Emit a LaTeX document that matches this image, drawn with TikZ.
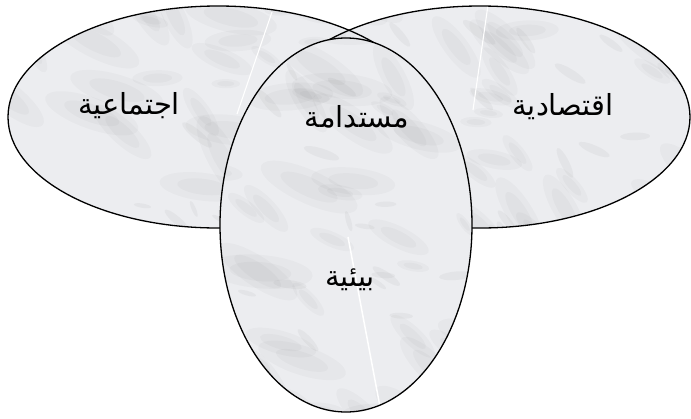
\documentclass[tikz,border=0pt]{standalone}
\usepackage{fontspec}
\newfontfamily\arabicfont[Script=Arabic]{DejaVu Sans}
\TeXXeTstate=1
\definecolor{marblebase}{RGB}{236,237,240}
\tikzset{
  ell/.style={draw=black, line width=1.3pt},
  lbl/.style={font=\arabicfont\fontsize{29}{32}\selectfont, text=black, inner sep=0pt},
  blob/.style={fill=black!60, opacity=0.045},
  dblob/.style={fill=black!70, opacity=0.05},
  seam/.style={draw=white, line width=1.1pt}
}
\newcommand\mymarble{%
  \fill[marblebase] (0,0) rectangle (691,418);
  \foreach \k in {1,...,110}{%
    \pgfmathsetmacro\px{rand*360+345}%
    \pgfmathsetmacro\py{rand*220+209}%
    \pgfmathsetmacro\ang{rand*35-30}%
    \pgfmathsetmacro\rr{rand*9+15}%
    \pgfmathsetmacro\ra{2.2*\rr}%
    \pgfmathsetmacro\rb{0.7*\rr}%
    \pgfmathsetmacro\rc{1.3*\rr}%
    \pgfmathsetmacro\rd{0.4*\rr}%
    \begin{scope}[rotate around={\ang:(\px,\py)}]
      \fill[blob] (\px,\py) ellipse[x radius=\ra pt, y radius=\rb pt];
      \fill[blob] (\px,\py) ellipse[x radius=\rc pt, y radius=\rd pt];
    \end{scope}
  }%
  \foreach \k in {1,...,60}{%
    \pgfmathsetmacro\px{rand*360+345}%
    \pgfmathsetmacro\py{rand*220+209}%
    \pgfmathsetmacro\ang{rand*40-35}%
    \pgfmathsetmacro\rr{rand*3+7}%
    \pgfmathsetmacro\ra{2*\rr}%
    \pgfmathsetmacro\rb{0.5*\rr}%
    \begin{scope}[rotate around={\ang:(\px,\py)}]
      \fill[dblob] (\px,\py) ellipse[x radius=\ra pt, y radius=\rb pt];
    \end{scope}
  }%
}
\begin{document}
\begin{tikzpicture}[x=1pt, y=-1pt]
\pgfmathsetseed{11}
\useasboundingbox (0,0) rectangle (691,418);
% left ellipse
\begin{scope}
  \clip (218,117) ellipse [x radius=210pt, y radius=111pt];
  \mymarble
  \coordinate (ls1) at (272,12); \coordinate (ls2) at (237,114);
  \draw[seam] (ls1) -- (ls2);
\end{scope}
% right ellipse
\begin{scope}
  \clip (480,117) ellipse [x radius=210pt, y radius=111pt];
  \mymarble
  \coordinate (rs1) at (488,5); \coordinate (rs2) at (473,110);
  \draw[seam] (rs1) -- (rs2);
\end{scope}
\draw[ell] (218,117) ellipse [x radius=210pt, y radius=111pt];
\draw[ell] (480,117) ellipse [x radius=210pt, y radius=111pt];
% vertical ellipse
\begin{scope}
  \clip (346,225) ellipse [x radius=126pt, y radius=187pt];
  \mymarble
  \coordinate (vs1) at (348,237); \coordinate (vs2) at (381,412);
  \draw[seam, line width=1.5pt] (vs1) -- (vs2);
\end{scope}
\draw[ell] (346,225) ellipse [x radius=126pt, y radius=187pt];
% labels
\node[lbl] (social) at (129,106) {\beginR اجتماعية\endR};
\node[lbl] (sust) at (357,117) {\beginR مستدامة\endR};
\node[lbl] (econ) at (563,107) {\beginR اقتصادية\endR};
\node[lbl] (env) at (350,280) {\beginR بيئية\endR};
\end{tikzpicture}
\end{document}
